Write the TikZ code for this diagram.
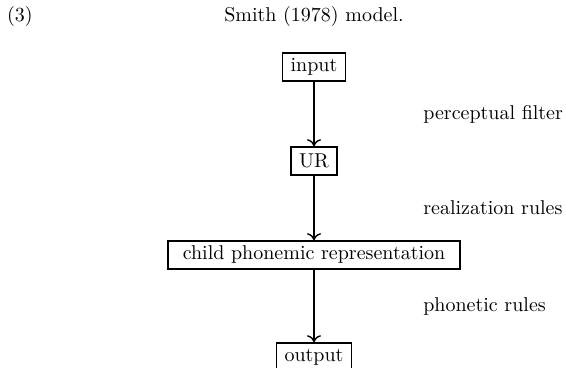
\documentclass[tikz,border=0pt]{standalone}
\usetikzlibrary{positioning,arrows.meta}

\begin{document}
\begin{tikzpicture}[x=0.5pt,y=0.5pt,
	node distance=47pt,
	box/.style={draw,line width=0.8pt,inner xsep=4pt,inner ysep=2.5pt,minimum height=14pt},
	rule/.style={right=51pt},
	every edge/.style={draw,line width=0.7pt,-{To[length=3.5pt,width=7pt]}}]
	\useasboundingbox (0,0) rectangle (566,-368);
	\draw
		node [anchor=west] (num) at (0,-17) {(3)}
		node (title) at (314,-17) {Smith (1978) model.}
		node [box] (in) at (314,-67) {input}
		node [box,below of=in]  (ur)  {UR}
		node [box,below of=ur,minimum width=146pt] (cpr) {child phonemic representation}
		node [box,node distance=51pt,below of=cpr] (out) {output}

		(in)  edge node[rule] {perceptual filter} (ur)
		(ur)  edge node[rule] {realization rules} (cpr)
		(cpr) edge node[rule] {phonetic rules}    (out)
	;
\end{tikzpicture}
\end{document}
